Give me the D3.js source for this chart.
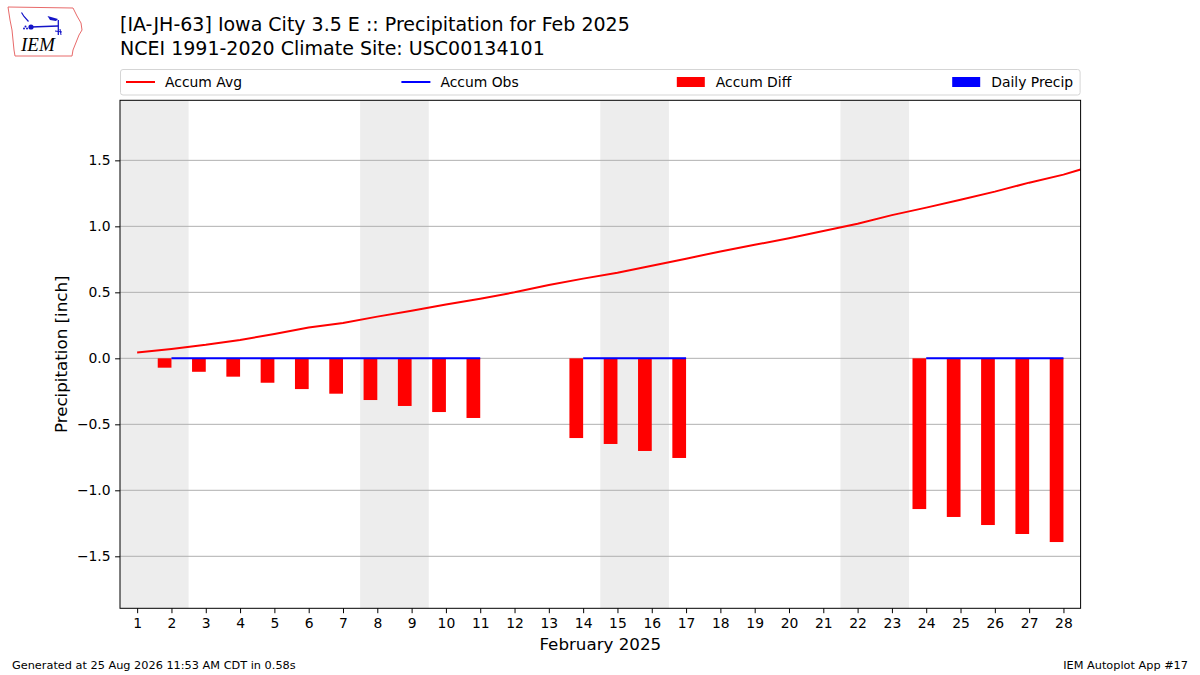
<!DOCTYPE html>
<html>
<head>
<meta charset="utf-8">
<script src="https://cdn.jsdelivr.net/npm/d3@7"></script>
<style>
body { margin: 0; background: #fff; }
svg text { font-family: "DejaVu Sans", sans-serif; fill: #000; }
</style>
</head>
<body>
<svg id="chart" width="1200" height="675"></svg>
<script>
// values
const dayTicks = d3.range(1, 29);
const avgDays = d3.range(1, 30);
const accumAvg = [0.045, 0.071, 0.102, 0.139, 0.185, 0.233, 0.268, 0.316, 0.361, 0.407,
  0.452, 0.500, 0.555, 0.604, 0.649, 0.702, 0.755, 0.810, 0.860, 0.910,
  0.965, 1.020, 1.085, 1.142, 1.202, 1.263, 1.331, 1.392, 1.470];
const obsDays = [2, 3, 4, 5, 6, 7, 8, 9, 10, 11, 14, 15, 16, 17, 24, 25, 26, 27, 28];
const accumObs = [0, 0, 0, 0, 0, 0, 0, 0, 0, 0, 0, 0, 0, 0, 0, 0, 0, 0, 0];
const dailyPrecip = [0, 0, 0, 0, 0, 0, 0, 0, 0, 0, 0, 0, 0, 0, 0, 0, 0, 0, 0];
const weekendStarts = [1, 8, 15, 22];
const yTicks = [-1.5, -1.0, -0.5, 0.0, 0.5, 1.0, 1.5];
const legendItems = [
  {name: 'Accum Avg', kind: 'line', color: '#ff0000'},
  {name: 'Accum Obs', kind: 'line', color: '#0000ff'},
  {name: 'Accum Diff', kind: 'patch', color: '#ff0000'},
  {name: 'Daily Precip', kind: 'patch', color: '#0000ff'}
];

const svg = d3.select('#chart');
const pLeft = 120, pRight = 1080.6, pTop = 100.3, pBottom = 608.3;

const x = d3.scaleLinear().domain([0.5, 28.5]).range([pLeft, pRight]);
const y = d3.scaleLinear().domain([-1.894, 1.955]).range([pBottom, pTop]);

svg.append('defs').append('clipPath').attr('id', 'plotclip')
  .append('rect').attr('x', pLeft).attr('y', pTop)
  .attr('width', pRight - pLeft).attr('height', pBottom - pTop);

// weekends
svg.append('g').selectAll('rect')
  .data(weekendStarts)
  .enter()
  .append('rect')
  .attr('x', d => x(d - 0.5))
  .attr('width', d => x(d + 1.5) - x(d - 0.5))
  .attr('y', pTop)
  .attr('height', pBottom - pTop)
  .attr('fill', '#ededed');

// grid
svg.append('g').selectAll('line')
  .data(yTicks)
  .enter()
  .append('line')
  .attr('x1', pLeft).attr('x2', pRight)
  .attr('y1', d => y(d)).attr('y2', d => y(d))
  .attr('stroke', '#b0b0b0').attr('stroke-width', 1);

const plot = svg.append('g').attr('clip-path', 'url(#plotclip)');

// accum diff bars
const diffs = obsDays.map((d, i) => ({day: d, v: accumObs[i] - accumAvg[d - 1]}));
plot.append('g').selectAll('rect')
  .data(diffs)
  .enter()
  .append('rect')
  .attr('x', d => x(d.day - 0.4))
  .attr('width', d => x(d.day) - x(d.day - 0.4))
  .attr('y', d => y(Math.max(0, d.v)))
  .attr('height', d => Math.abs(y(d.v) - y(0)))
  .attr('fill', '#ff0000');

// daily precip bars
plot.append('g').selectAll('rect')
  .data(obsDays.map((d, i) => ({day: d, v: dailyPrecip[i]})))
  .enter()
  .append('rect')
  .attr('x', d => x(d.day))
  .attr('width', d => x(d.day + 0.4) - x(d.day))
  .attr('y', d => y(d.v))
  .attr('height', d => y(0) - y(d.v))
  .attr('fill', '#0000ff');

// accum avg line
plot.append('path')
  .datum(avgDays.map((d, i) => [d, accumAvg[i]]))
  .attr('fill', 'none')
  .attr('stroke', '#ff0000')
  .attr('stroke-width', 2)
  .attr('d', d3.line().x(d => x(d[0])).y(d => y(d[1])));

// accum obs line, broken where days are missing
const obsSeries = dayTicks.map(d => {
  const i = obsDays.indexOf(d);
  return [d, i < 0 ? null : accumObs[i]];
});
plot.append('path')
  .datum(obsSeries)
  .attr('fill', 'none')
  .attr('stroke', '#0000ff')
  .attr('stroke-width', 2)
  .attr('d', d3.line().defined(d => d[1] !== null).x(d => x(d[0])).y(d => y(d[1])));

// axes
const yAxis = svg.append('g')
  .attr('transform', `translate(${pLeft},0)`)
  .call(d3.axisLeft(y).tickValues(yTicks).tickFormat(d3.format('.1f')).tickSize(4.9).tickPadding(4.5));
const xAxis = svg.append('g')
  .attr('transform', `translate(0,${pBottom})`)
  .call(d3.axisBottom(x).tickValues(dayTicks).tickFormat(d3.format('d')).tickSize(4.9).tickPadding(4.5));
[yAxis, xAxis].forEach(a => {
  a.select('.domain').remove();
  a.selectAll('text').style('font-size', '13.9px').attr('fill', '#000');
  a.selectAll('line').attr('stroke', '#000');
});

svg.append('rect')
  .attr('x', pLeft).attr('y', pTop)
  .attr('width', pRight - pLeft).attr('height', pBottom - pTop)
  .attr('fill', 'none').attr('stroke', '#000').attr('stroke-width', 1);

svg.append('text')
  .attr('transform', `translate(67,${(pTop + pBottom) / 2}) rotate(-90)`)
  .attr('text-anchor', 'middle')
  .style('font-size', '16.7px')
  .text('Precipitation [inch]');

svg.append('text')
  .attr('x', (pLeft + pRight) / 2).attr('y', 650)
  .attr('text-anchor', 'middle')
  .style('font-size', '16.7px')
  .text('February 2025');

// legend
const legend = svg.append('g');
legend.append('rect')
  .attr('x', pLeft + 0.5).attr('y', 69.5)
  .attr('width', pRight - pLeft - 1).attr('height', 25.5)
  .attr('rx', 2.5)
  .attr('fill', '#fff').attr('stroke', '#d5d5d5').attr('stroke-width', 1);
const entry = legend.selectAll('g.entry')
  .data(legendItems)
  .enter()
  .append('g')
  .attr('class', 'entry')
  .attr('transform', (d, i) => `translate(${126 + i * 275.4},82)`);
entry.filter(d => d.kind === 'line').append('line')
  .attr('x1', 0).attr('x2', 29).attr('y1', 0).attr('y2', 0)
  .attr('stroke', d => d.color).attr('stroke-width', 2);
entry.filter(d => d.kind === 'patch').append('rect')
  .attr('x', 0).attr('y', -5).attr('width', 28).attr('height', 10)
  .attr('fill', d => d.color);
entry.append('text')
  .attr('x', 39).attr('y', 4.8)
  .style('font-size', '13.9px')
  .text(d => d.name);

// titles
svg.append('text').attr('x', 120).attr('y', 31)
  .style('font-size', '19px')
  .text('[IA-JH-63] Iowa City 3.5 E :: Precipitation for Feb 2025');
svg.append('text').attr('x', 120).attr('y', 54.5)
  .style('font-size', '19px')
  .text('NCEI 1991-2020 Climate Site: USC00134101');

// footer
svg.append('text').attr('x', 12).attr('y', 669)
  .style('font-size', '11.3px')
  .text('Generated at 25 Aug 2026 11:53 AM CDT in 0.58s');
svg.append('text').attr('x', 1188).attr('y', 669)
  .attr('text-anchor', 'end')
  .style('font-size', '11.3px')
  .text('IEM Autoplot App #17');

// IEM logo
const logo = svg.append('g');
logo.append('path')
  .attr('d', 'M8,7 L73,8 L77,16 L81,23 L82,30 L79,35 L77,40 L75,45 L73,50 L72,56 L15,56 L14,50 L13,40 L12,30 L10,20 Z')
  .attr('fill', 'none').attr('stroke', '#e86a6a').attr('stroke-width', 1);
logo.append('text')
  .attr('x', 21).attr('y', 51)
  .style('font-family', '"Liberation Serif", "DejaVu Serif", serif')
  .style('font-style', 'italic')
  .style('font-size', '19px')
  .attr('fill', '#d42020')
  .text('IEM');
logo.append('line').attr('x1', 31).attr('y1', 27).attr('x2', 58).attr('y2', 26)
  .attr('stroke', '#1414c8').attr('stroke-width', 1.5);
logo.append('circle').attr('cx', 31).attr('cy', 27).attr('r', 2.6).attr('fill', '#1414c8');
logo.append('path').attr('d', 'M47.5,16 L58,19 L56,21 L50,20 Z').attr('fill', '#1414c8');
logo.append('path').attr('d', 'M21.5,12.5 L24,16.5 L28.5,21.5').attr('fill', 'none')
  .attr('stroke', '#1414c8').attr('stroke-width', 1.2);
logo.append('line').attr('x1', 58.3).attr('y1', 20).attr('x2', 58.3).attr('y2', 35)
  .attr('stroke', '#1414c8').attr('stroke-width', 1.3);
logo.append('path').attr('d', 'M55,31 L62,32 M60,29 L61,35').attr('fill', 'none')
  .attr('stroke', '#1414c8').attr('stroke-width', 1);
logo.append('circle').attr('cx', 25.5).attr('cy', 26.5).attr('r', 1).attr('fill', '#1414c8');
logo.append('circle').attr('cx', 24).attr('cy', 28.5).attr('r', 1).attr('fill', '#1414c8');
logo.append('circle').attr('cx', 27).attr('cy', 28.5).attr('r', 1).attr('fill', '#1414c8');
</script>
</body>
</html>
